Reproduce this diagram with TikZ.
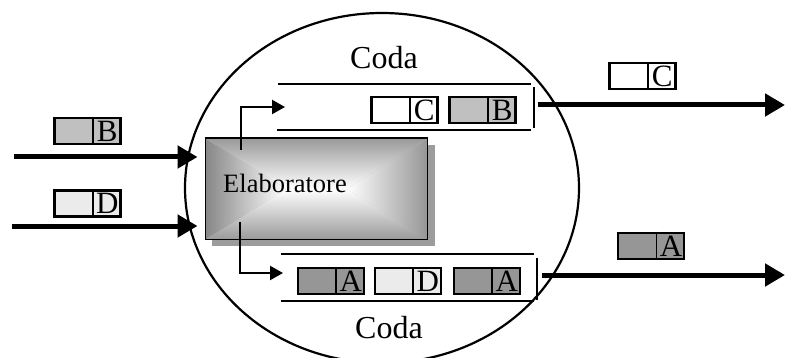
\documentclass[tikz,border=0pt]{standalone}
\usepackage{fontspec}
\setmainfont{Liberation Serif}
\usetikzlibrary{arrows.meta,shapes.geometric}
\definecolor{pktB}{HTML}{C0C0C0}
\definecolor{pktD}{HTML}{EBEBEB}
\definecolor{pktA}{HTML}{969696}
\definecolor{edgeL}{HTML}{878787}
\definecolor{edgeR}{HTML}{969696}
\definecolor{edgeTB}{HTML}{9A9A9A}
\definecolor{shadowc}{HTML}{9C9C9C}
\newcommand\packet[5]{%
  \node[pkt, fill=#4, anchor=north west] (#1) at (#2,#3) {};
  \draw[pktline] ([xshift=39.5pt]#1.north west) -- ([xshift=39.5pt]#1.south west);
  \node[letter] (#1l) at ([xshift=54pt]#1.south west) {#5};
}
\begin{document}
\begin{tikzpicture}[x=1pt,y=-1pt,
  pkt/.style={draw, line width=2.2pt, minimum width=66pt, minimum height=26pt, inner sep=0pt},
  pktline/.style={line width=1.5pt},
  letter/.style={anchor=base, inner sep=0pt, font=\fontsize{31}{31}\selectfont, yshift=3.6pt},
  qline/.style={line width=2.2pt},
  bigarrow/.style={line width=5pt, -{Triangle[length=20pt,width=22pt]}},
  elbow/.style={line width=2.2pt, -{Triangle[length=13pt,width=14pt]}},
  label/.style={anchor=base, inner sep=0pt, font=\fontsize{32}{32}\selectfont}
]
\useasboundingbox (0,0) rectangle (786,358);

% system boundary
\node[ellipse, draw, line width=2.2pt, minimum width=394pt, minimum height=350pt, inner sep=0pt] (sys) at (382,188) {};

% processor with shadow
\fill[shadowc] (212,145) rectangle (435,246);
\node[draw, line width=1.8pt, minimum width=222pt, minimum height=101pt, inner sep=0pt, anchor=north west,
  path picture={
    \coordinate (cl) at ([xshift=-30pt]path picture bounding box.center);
    \coordinate (cr) at ([xshift=30pt]path picture bounding box.center);
    \shade[top color=edgeTB, bottom color=white] (path picture bounding box.north west) -- (path picture bounding box.north east) -- (cr) -- (cl) -- cycle;
    \shade[bottom color=edgeTB, top color=white] (path picture bounding box.south west) -- (path picture bounding box.south east) -- (cr) -- (cl) -- cycle;
    \shade[left color=edgeL, right color=white] (path picture bounding box.north west) -- (path picture bounding box.south west) -- (cl) -- cycle;
    \shade[right color=edgeR, left color=white] (path picture bounding box.north east) -- (path picture bounding box.south east) -- (cr) -- cycle;
  }] (elab) at (204.5,137.5) {};
\node[anchor=base, inner sep=0pt, font=\fontsize{26.5}{26.5}\selectfont] (elabtext) at (285,192) {Elaboratore};

% queues
\coordinate (q1a) at (278,84);  \coordinate (q1b) at (531,84);
\coordinate (q1c) at (277,130); \coordinate (q1d) at (531,130);
\coordinate (q1t) at (534,87);  \coordinate (q1u) at (534,128);
\draw[qline] (q1a) -- (q1b);
\draw[qline] (q1c) -- (q1d);
\draw[qline] (q1t) -- (q1u);
\coordinate (q2a) at (281,254); \coordinate (q2b) at (534,254);
\coordinate (q2c) at (281,301); \coordinate (q2d) at (534,301);
\coordinate (q2t) at (537,258); \coordinate (q2u) at (537,300);
\draw[qline] (q2a) -- (q2b);
\draw[qline] (q2c) -- (q2d);
\draw[qline] (q2t) -- (q2u);

\node[label] (coda1) at (384,69) {Coda};
\node[label] (coda2) at (389,338) {Coda};

% packets in queues
\packet{qC}{370.3}{96}{white}{C}
\packet{qB}{448.3}{96}{pktB}{B}
\packet{qA1}{296.7}{267}{pktA}{A}
\packet{qD}{373.7}{267}{pktD}{D}
\packet{qA2}{452.7}{267}{pktA}{A}

% input packets
\packet{inBp}{53.3}{116.7}{pktB}{B}
\packet{inDp}{53.3}{189.3}{pktD}{D}
% output packets
\packet{outCp}{608.3}{62}{white}{C}
\packet{outAp}{617}{231.7}{pktA}{A}

% input arrows
\coordinate (inB) at (14,157);
\coordinate (inD) at (12,226);
\draw[bigarrow, shorten >=7pt] (inB) -- (elab.west |- inB);
\draw[bigarrow, shorten >=7pt] (inD) -- (elab.west |- inD);

% elbow connectors from processor to queues
\coordinate (e1s) at (241,150);
\coordinate (e1t) at (285,107);
\coordinate (e2s) at (240,222);
\coordinate (e2t) at (283,273);
\draw[elbow] (e1s) |- (e1t);
\draw[elbow] (e2s) |- (e2t);

% output arrows
\coordinate (o1s) at (534,105);
\coordinate (o1t) at (785,105);
\coordinate (o2s) at (537,275);
\coordinate (o2t) at (785,275);
\draw[bigarrow, shorten <=4pt] (o1s) -- (o1t);
\draw[bigarrow, shorten <=4.5pt] (o2s) -- (o2t);
\end{tikzpicture}
\end{document}
